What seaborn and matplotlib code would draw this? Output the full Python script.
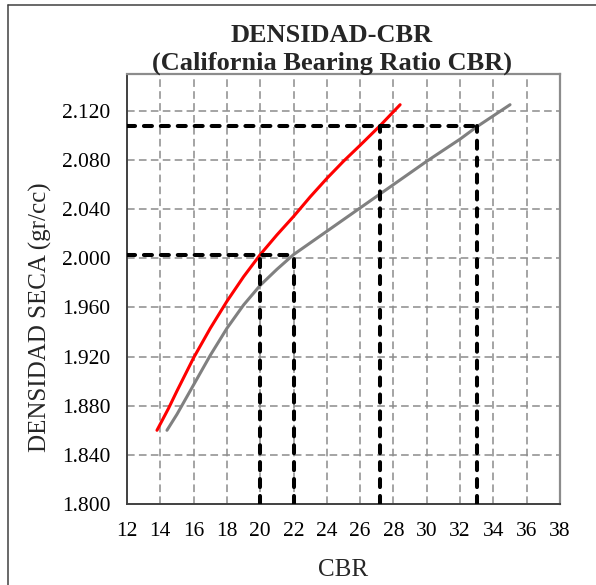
import matplotlib
matplotlib.use("Agg")
import matplotlib.pyplot as plt
import matplotlib.ticker as mticker
from matplotlib.lines import Line2D
import numpy as np
import pandas as pd
import seaborn as sns

# Curve 1 (red): CBR vs dry density
cbr_red = [13.8, 14.5, 15.0, 16.0, 17.0, 18.0, 19.0, 20.0, 21.0, 22.0,
           23.0, 24.0, 25.0, 26.0, 27.2, 28.4]
dens_red = [1.860, 1.878, 1.892, 1.919, 1.943, 1.965, 1.985, 2.003, 2.019, 2.034,
            2.050, 2.065, 2.079, 2.092, 2.108, 2.125]

# Curve 2 (gray): CBR vs dry density
cbr_gray = [14.4, 15.0, 16.0, 17.0, 18.0, 19.0, 20.0, 21.0, 22.0, 24.0,
            26.0, 28.0, 30.0, 32.0, 33.0, 34.0, 35.0]
dens_gray = [1.860, 1.873, 1.897, 1.921, 1.943, 1.962, 1.978, 1.991, 2.003, 2.022,
             2.041, 2.060, 2.079, 2.097, 2.107, 2.116, 2.125]

# Reference densities and the CBR read on each curve
ref_dens = [2.003, 2.108]
ref_cbr_red = [20.0, 27.2]
ref_cbr_gray = [22.0, 33.0]

x_ticks = list(range(12, 39, 2))
y_ticks = [1.800, 1.840, 1.880, 1.920, 1.960, 2.000, 2.040, 2.080, 2.120]
x_min, x_max = 12, 38
y_min, y_max = 1.800, 2.150

title_1 = "DENSIDAD-CBR"
title_2 = "(California Bearing Ratio CBR)"
x_label = "CBR"
y_label = "DENSIDAD SECA (gr/cc)"

sns.set_style("white")
plt.rcParams["font.family"] = ["Liberation Serif", "DejaVu Serif"]

W, H = 596, 585
fig = plt.figure(figsize=(W / 100, H / 100), dpi=100)
ax = fig.add_axes([127 / W, 1 - 504 / H, (560 - 127) / W, (504 - 74) / H])

grid_kw = dict(color="#8c8c8c", linewidth=1.1, linestyle=(0, (5.0, 2.8)), zorder=0)
for xv in x_ticks[1:-1]:
    ax.axvline(xv, **grid_kw)
for yv in y_ticks[1:]:
    ax.axhline(yv, **grid_kw)

df_red = pd.DataFrame({"CBR": cbr_red, "dens": dens_red})
df_gray = pd.DataFrame({"CBR": cbr_gray, "dens": dens_gray})
sns.lineplot(data=df_gray, x="CBR", y="dens", color="#808080", linewidth=2.2,
             sort=False, estimator=None, ax=ax, zorder=3)
sns.lineplot(data=df_red, x="CBR", y="dens", color="#ff0000", linewidth=2.2,
             sort=False, estimator=None, ax=ax, zorder=3)
for ln in ax.lines[-2:]:
    ln.set_solid_joinstyle("round")

# Dashed read-off lines
ref_kw = dict(color="black", linewidth=2.9, linestyle=(0, (2.0, 2.2)),
              dash_capstyle="round", zorder=4)
for d, c_red, c_gray in zip(ref_dens, ref_cbr_red, ref_cbr_gray):
    ax.plot([x_min, c_gray], [d, d], **ref_kw)
    ax.plot([c_red, c_red], [y_min, d], **ref_kw)
    ax.plot([c_gray, c_gray], [y_min, d], **ref_kw)

ax.set_xlim(x_min, x_max)
ax.set_ylim(y_min, y_max)
ax.set_xticks(x_ticks)
ax.set_yticks(y_ticks)
ax.yaxis.set_major_formatter(mticker.FormatStrFormatter("%.3f"))
ax.tick_params(axis="both", which="major", direction="out", length=5, width=1.1,
               color="#404040", labelsize=15.5, labelcolor="black")
ax.tick_params(axis="x", pad=8)
ax.tick_params(axis="y", pad=7)
ax.grid(False)

for side in ["left", "bottom"]:
    ax.spines[side].set_color("#404040")
    ax.spines[side].set_linewidth(1.4)
for side in ["top", "right"]:
    ax.spines[side].set_color("#8c8c8c")
    ax.spines[side].set_linewidth(1.6)

ax.set_xlabel(x_label, fontsize=18, va="center")
ax.xaxis.set_label_coords((343 - 127) / 433, (504 - 570) / 430)
ax.set_ylabel(y_label, fontsize=18, va="center")
ax.yaxis.set_label_coords((40 - 127) / 433, (504 - 317) / 430)

fig.text(332 / W, 1 - 42 / H, title_1, ha="center", va="baseline",
         fontsize=19, fontweight="bold")
fig.text(332 / W, 1 - 70 / H, title_2, ha="center", va="baseline",
         fontsize=19, fontweight="bold")

# Chart frame
fig.add_artist(Line2D([8 / W, 1], [1 - 4.5 / H, 1 - 4.5 / H], color="#404040", linewidth=1.1))
fig.add_artist(Line2D([8 / W, 8 / W], [0, 1 - 4.5 / H], color="#404040", linewidth=1.1))

fig.savefig("out.png", dpi=100)
